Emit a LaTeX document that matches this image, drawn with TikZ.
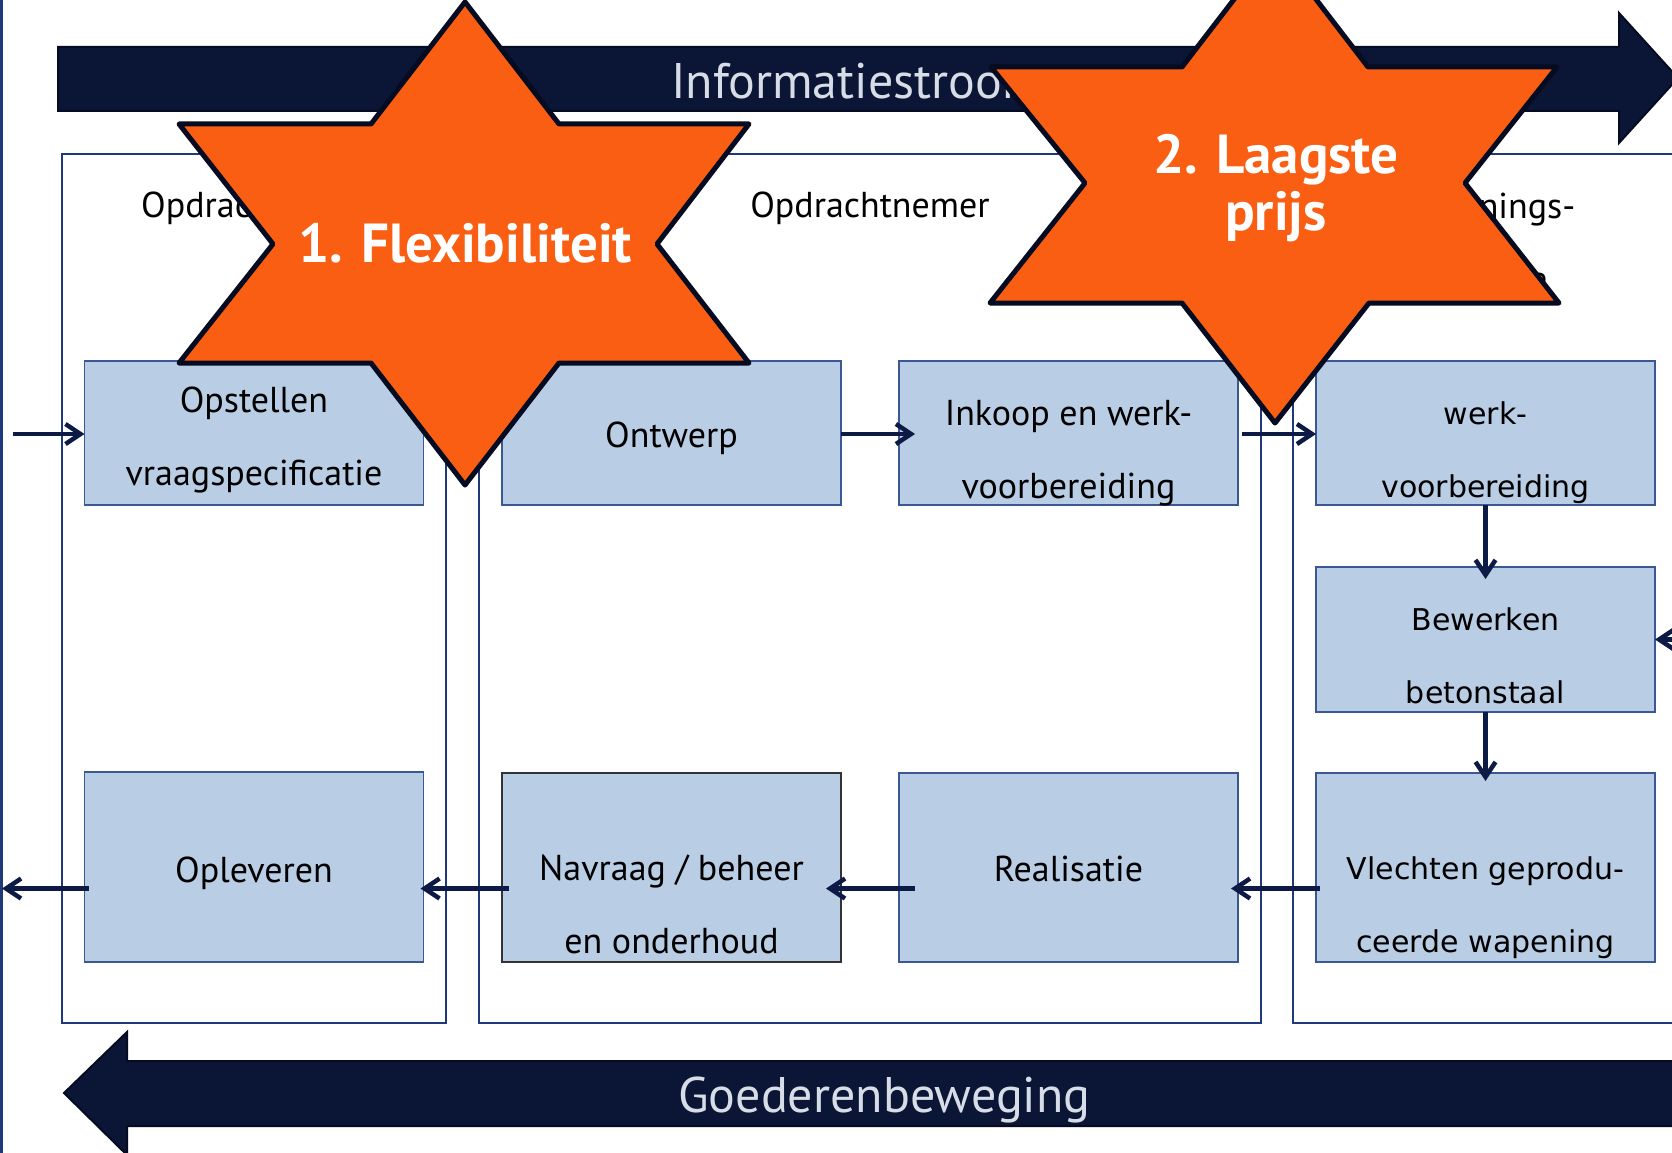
\documentclass[tikz,border=0pt]{standalone}
\usepackage{fontspec}
\setmainfont{PT Sans}
\newfontfamily\verdfont{DejaVu Sans}
\usetikzlibrary{arrows.meta,calc}
\definecolor{navy}{HTML}{0B1535}
\definecolor{navyedge}{HTML}{050B20}
\definecolor{boxfill}{HTML}{B9CDE5}
\definecolor{boxedge}{HTML}{3A5893}
\definecolor{paneledge}{HTML}{1E3A7A}
\definecolor{starorange}{HTML}{F95E12}
\definecolor{arrowtext}{HTML}{D6DDE7}
\definecolor{conncol}{HTML}{0D1A45}
\begin{document}
\begin{tikzpicture}[x=1pt,y=-1pt,
  panel/.style={draw=paneledge,line width=2pt},
  procbox/.style={draw=boxedge,fill=boxfill,line width=1.7pt,inner sep=0pt,outer sep=0pt,minimum width=339pt},
  boxtext/.style={align=center,font=\fontsize{36}{73}\selectfont,inner sep=0pt},
  rtext/.style={align=center,font=\verdfont\fontsize{30}{73}\selectfont,inner sep=0pt},
  conn/.style={draw=conncol,line width=4.5pt,-{Straight Barb[length=15pt,width=20pt]}},
  flow/.style={fill=navy,draw=navyedge,line width=2pt},
  flowtext/.style={text=arrowtext,font=\fontsize{50}{55}\selectfont,inner sep=0pt},
  star/.style={fill=starorange,draw=navyedge,line width=5pt,line join=round},
  startext/.style={text=white,align=center,font=\bfseries\fontsize{55}{57}\selectfont,inner sep=0pt}]
\useasboundingbox (0,0) rectangle (1672,1153);
\clip (0,0) rectangle (1672,1153);
\fill[white] (0,0) rectangle (1672,1153);

% left edge line
\draw[draw=paneledge,line width=3pt] (1.5,-5) -- (1.5,1160);

% panels
\draw[panel] (62,154) rectangle (446,1023);
\draw[panel] (479,154) rectangle (1261,1023);
\draw[panel] (1720,154) -- (1293,154) -- (1293,1023) -- (1720,1023);

% headers (base anchor = last line baseline)
\node[boxtext,anchor=base] (hdr1) at (254,217) {Opdrachtgever};
\node[boxtext,anchor=base] (hdr2) at (870,217) {Opdrachtnemer};
\node[boxtext,anchor=base] (hdr3) at (1485,291) {Wapenings-\\centrale};

% process boxes
\node[procbox,minimum height=144pt] (opstellen) at (254,433) {};
\node[procbox,minimum height=144pt] (ontwerp) at (671.5,433) {};
\node[procbox,minimum height=144pt] (inkoop) at (1068.5,433) {};
\node[procbox,minimum height=144pt] (werk) at (1485.5,433) {};
\node[procbox,minimum height=145pt] (bewerken) at (1485.5,639.5) {};
\node[procbox,minimum height=189pt] (vlechten) at (1485.5,867.5) {};
\node[procbox,minimum height=189pt] (realisatie) at (1068.5,867.5) {};
\node[procbox,minimum height=189pt,draw=black!80] (navraag) at (671.5,867.5) {};
\node[procbox,minimum height=190pt] (opleveren) at (254,867) {};

% box texts
\node[boxtext,anchor=base] (topstellen) at (254,485) {Opstellen\\vraagspecificatie};
\node[boxtext,anchor=base] (tontwerp) at (671.5,447) {Ontwerp};
\node[boxtext,anchor=base] (tinkoop) at (1068.5,498) {Inkoop en werk-\\voorbereiding};
\node[rtext,anchor=base] (twerk) at (1485.5,497) {werk-\\voorbereiding};
\node[rtext,anchor=base] (tbewerken) at (1485.5,703) {Bewerken\\betonstaal};
\node[rtext,anchor=base] (tvlechten) at (1485.5,952) {Vlechten geprodu-\\ceerde wapening};
\node[boxtext,anchor=base] (trealisatie) at (1068.5,881) {Realisatie};
\node[boxtext,anchor=base] (tnavraag) at (671.5,953) {Navraag / beheer\\en onderhoud};
\node[boxtext,anchor=base] (topleveren) at (254,882) {Opleveren};

% connectors
\coordinate (inStart) at (13,434);
\coordinate (outEnd) at (2,888.5);
\coordinate (rightIn) at (1680,639.5);
\draw[conn] (inStart) -- ($(opstellen.west)+(0,1)$);
\draw[conn] ($(ontwerp.east)+(0,1)$) -- ($(inkoop.west)+(16,1)$);
\draw[conn] ($(inkoop.east)+(4,1)$) -- ($(werk.west)+(0,1)$);
\draw[conn] (werk.south) -- ($(bewerken.north)+(0,12)$);
\draw[conn] (bewerken.south) -- ($(vlechten.north)+(0,8)$);
\draw[conn] (rightIn) -- (bewerken.east);
\draw[conn] ($(vlechten.west)+(4,21)$) -- ($(realisatie.east)+(-7,21)$);
\draw[conn] ($(realisatie.west)+(16,21)$) -- ($(navraag.east)+(-15,21)$);
\draw[conn] ($(navraag.west)+(7,21)$) -- ($(opleveren.east)+(-3,21.5)$);
\draw[conn] ($(opleveren.west)+(4,21.5)$) -- (outEnd);

% flow arrows
\draw[flow] (58,47) -- (1619,47) -- (1619,13) -- (1678,78) -- (1619,143) -- (1619,111) -- (58,111) -- cycle;
\node[flowtext,anchor=base west] (info) at (671,99) {Informatiestroom};
\draw[flow] (1720,1061) -- (127,1061) -- (127,1032) -- (64,1093) -- (127,1155) -- (127,1126) -- (1720,1126);
\node[flowtext,anchor=base west] (goed) at (678,1112) {Goederenbeweging};

% stars
\draw[star] (465,2) -- (559,124) -- (749,124) -- (657,244) -- (749,363) -- (559,363) -- (465,485) -- (371,363) -- (179,363) -- (273,244) -- (179,124) -- (371,124) -- cycle;
\node[startext,anchor=base] (s1) at (465,262) {1. Flexibiliteit};
\draw[star] (1275,-54) -- (1368,67) -- (1557,67) -- (1465,183) -- (1559,303) -- (1369,303) -- (1275,423) -- (1182,303) -- (990,303) -- (1085,183) -- (991,67) -- (1182,67) -- cycle;
\node[startext,anchor=base] (s2) at (1276,230) {2. Laagste\\prijs};
\end{tikzpicture}
\end{document}
